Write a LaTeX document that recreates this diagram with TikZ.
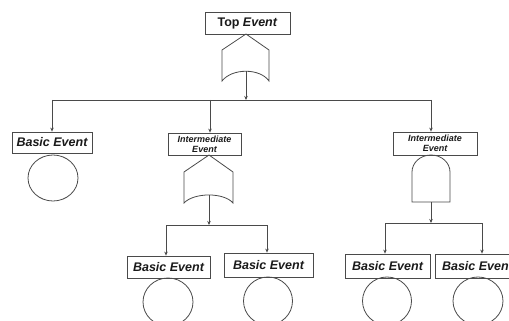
\documentclass[tikz,border=0pt]{standalone}
\usepackage{fontspec}
\setmainfont{Liberation Sans}
\usetikzlibrary{arrows.meta,shapes.geometric}
\definecolor{ln}{HTML}{4A4A4A}
\definecolor{tx}{HTML}{1A1A1A}
\begin{document}
\begin{tikzpicture}[x=1pt,y=-1pt,
  evbox/.style={draw=ln, line width=0.8pt, fill=white, inner sep=0pt, text=tx,
    font=\fontsize{12.5}{14}\selectfont\bfseries\itshape},
  topbox/.style={evbox, font=\fontsize{12.5}{14}\selectfont\bfseries\upshape},
  imbox/.style={evbox, align=center, font=\fontsize{9}{10.2}\selectfont\bfseries\itshape},
  basic/.style={draw=ln, line width=0.8pt, ellipse, inner sep=0pt},
  gate/.style={draw=ln, line width=0.8pt, line join=miter},
  conn/.style={draw=ln, line width=0.7pt},
  arr/.style={conn, -{Stealth[length=4pt,width=3.5pt]}}]
\useasboundingbox (0,0) rectangle (509,321);
\clip (0,0) rectangle (509,321);
\fill[white] (0,0) rectangle (509,321);

% boxes
\node[topbox, minimum width=85pt, minimum height=22pt] (top) at (247.5,23) {Top \textit{Event}};
\node[evbox, minimum width=80pt, minimum height=21pt] (be1) at (52,142.5) {Basic Event};
\node[imbox, minimum width=73pt, minimum height=22pt] (im1) at (204.5,144) {Intermediate\\Event};
\node[imbox, minimum width=84pt, minimum height=23pt] (im2) at (435,143.5) {Intermediate\\Event};
\node[evbox, minimum width=83pt, minimum height=22pt] (be2) at (168.5,267) {Basic Event};
\node[evbox, minimum width=89pt, minimum height=24pt] (be3) at (268.5,265) {Basic Event};
\node[evbox, minimum width=85pt, minimum height=24pt] (be4) at (387.5,266) {Basic Event};
\node[evbox, minimum width=85pt, minimum height=24pt] (be5) at (477.5,266) {Basic Event};

% basic event circles
\node[basic, minimum width=50pt, minimum height=46pt] (c1) at (53,178) {};
\node[basic, minimum width=50pt, minimum height=48pt] (c2) at (168,302) {};
\node[basic, minimum width=49pt, minimum height=48pt] (c3) at (268,301) {};
\node[basic, minimum width=49pt, minimum height=48pt] (c4) at (387,301) {};
\node[basic, minimum width=50pt, minimum height=48pt] (c5) at (478,301) {};

% gates
\draw[gate] (246,34) -- (269,50) -- (269,81) .. controls (260,68) and (232,68) .. (222,81) -- (222,50) -- cycle;
\coordinate (g0) at (246,71.3);
\draw[gate] (209,155) -- (233,172) -- (233,203) .. controls (224,192.3) and (194,192.3) .. (184,203) -- (184,172) -- cycle;
\coordinate (g1) at (209,195);
\draw[gate] (412,202) -- (412,172) .. controls (412,162.6) and (420.5,155) .. (431,155)
   .. controls (441.5,155) and (450,162.6) .. (450,172) -- (450,202) -- cycle;
\coordinate (g2) at (431,202);

% top level connectors
\coordinate (j0) at (246,100);
\coordinate (a0) at (52,100);
\coordinate (a1) at (210,100);
\coordinate (a2) at (431,100);
\draw[arr] (g0) -- (j0);
\draw[conn] (a0) -- (a2);
\draw[arr] (a0) -- (be1.north);
\draw[arr] (a1) -- (a1 |- im1.north);
\draw[arr] (a2) -- (a2 |- im2.north);

% middle branch
\coordinate (j1) at (209,225);
\coordinate (b1) at (166,225);
\coordinate (b2) at (267,225);
\draw[arr] (g1) -- (j1);
\draw[conn] (b1) -- (b2);
\draw[arr] (b1) -- (b1 |- be2.north);
\draw[arr] (b2) -- (b2 |- be3.north);

% right branch
\coordinate (j2) at (431,223);
\coordinate (d1) at (385,223);
\coordinate (d2) at (482,223);
\draw[arr] (g2) -- (j2);
\draw[conn] (d1) -- (d2);
\draw[arr] (d1) -- (d1 |- be4.north);
\draw[arr] (d2) -- (d2 |- be5.north);
\end{tikzpicture}
\end{document}
